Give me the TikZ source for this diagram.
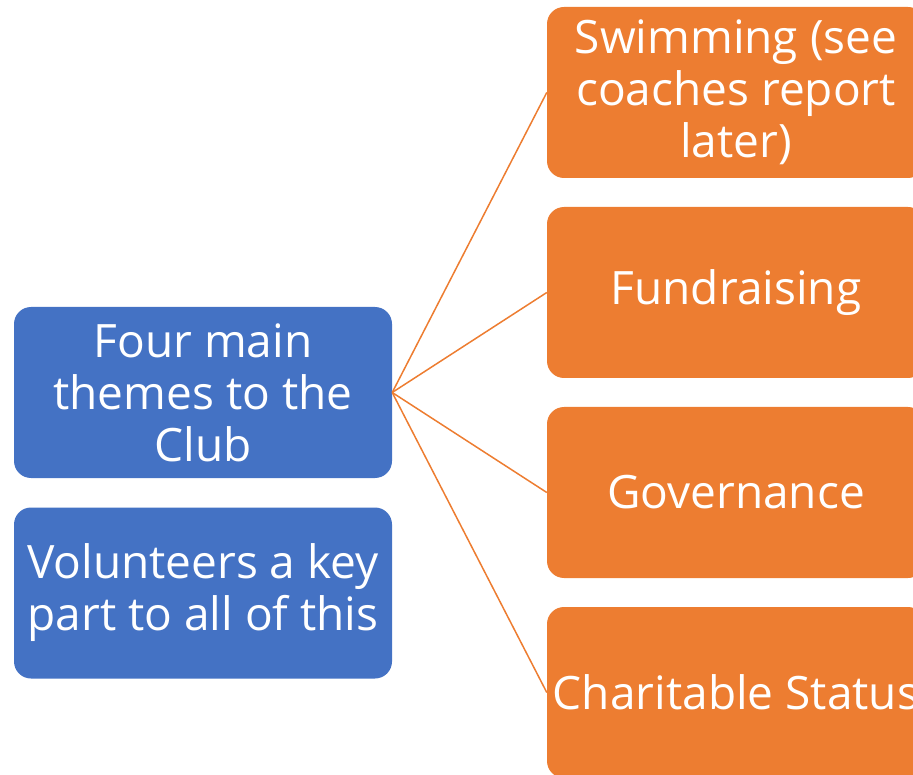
\documentclass[tikz,border=0pt]{standalone}
\usepackage{fontspec}
\setmainfont{Open Sans}
\definecolor{bblue}{HTML}{4472C4}
\definecolor{borange}{HTML}{ED7D31}
\begin{document}
\begin{tikzpicture}[x=1pt,y=-1pt,
  boxbase/.style={rounded corners=17pt, draw=none, text=white, align=center,
    font=\fontsize{46}{52}\selectfont, minimum width=378pt, minimum height=171pt,
    inner sep=0pt, anchor=center},
  bluebox/.style={boxbase, fill=bblue},
  orangebox/.style={boxbase, fill=borange},
  link/.style={draw=borange, line width=1.5pt}]
\useasboundingbox (0,0) rectangle (913,775);
\clip (0,0) rectangle (913,775);
\node[bluebox] (b1) at (203,392.5) {Four main\\themes to the\\Club};
\node[bluebox] (b2) at (203,593) {Volunteers a key\\part to all of this};
\node[orangebox] (o1) at (736,92.5) {Swimming (see\\coaches report\\later)};
\node[orangebox] (o2) at (736,292.5) {Fundraising};
\node[orangebox] (o3) at (736,492.5) {Governance};
\node[orangebox] (o4) at (736,692.5) {Charitable Status};
\draw[link] (b1.east) -- (o1.west);
\draw[link] (b1.east) -- (o2.west);
\draw[link] (b1.east) -- (o3.west);
\draw[link] (b1.east) -- (o4.west);
\end{tikzpicture}
\end{document}
